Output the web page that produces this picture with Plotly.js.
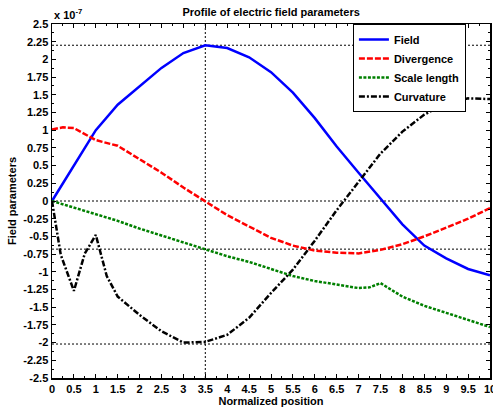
<!DOCTYPE html>
<html>
<head>
<meta charset="utf-8">
<script src="https://cdn.plot.ly/plotly-3.0.1.min.js"></script>
<style>html,body{margin:0;padding:0;background:#fff;}#chart{width:493px;height:408px;}</style>
</head>
<body>
<div id="chart"></div>
<script>
// values in units of 1e-7
const fieldX = [0,0.5,1,1.5,2,2.5,3,3.5,4,4.5,5,5.5,6,6.5,7,7.5,8,8.5,9,9.5,10];
const fieldY = [0,0.51,1.0,1.36,1.62,1.88,2.09,2.2,2.16,2.03,1.82,1.53,1.17,0.77,0.40,0.04,-0.33,-0.63,-0.81,-0.96,-1.05];

const divX = [0,0.25,0.5,1,1.5,2,2.5,3,3.5,4,4.5,5,5.5,6,6.5,7,7.5,8,8.5,9,9.5,10];
const divY = [1.01,1.04,1.03,0.86,0.78,0.59,0.40,0.19,0.0,-0.2,-0.36,-0.52,-0.63,-0.70,-0.73,-0.74,-0.69,-0.61,-0.50,-0.38,-0.25,-0.10];

const scaleX = [0,0.5,1,1.5,2,2.5,3,3.5,4,4.5,5,5.5,6,6.5,7,7.25,7.5,8,8.5,9,9.5,10];
const scaleY = [0,-0.09,-0.18,-0.28,-0.39,-0.49,-0.59,-0.68,-0.78,-0.86,-0.96,-1.06,-1.13,-1.18,-1.23,-1.22,-1.16,-1.35,-1.48,-1.58,-1.68,-1.78];

const curvX = [0,0.2,0.5,0.75,1,1.25,1.5,2,2.5,3,3.5,4,4.5,5,5.5,6,6.5,7,7.5,8,8.5,9,9.5,10];
const curvY = [0,-0.76,-1.27,-0.74,-0.48,-1.06,-1.35,-1.61,-1.84,-2.0,-1.99,-1.89,-1.65,-1.30,-0.97,-0.56,-0.13,0.27,0.67,0.98,1.22,1.38,1.45,1.44];

const refY = [2.2, 0, -0.68, -2.02];
const refX = [3.5];

const xTickVals = [0,0.5,1,1.5,2,2.5,3,3.5,4,4.5,5,5.5,6,6.5,7,7.5,8,8.5,9,9.5,10];
const xTickText = ["0","0.5","1","1.5","2","2.5","3","3.5","4","4.5","5","5.5","6","6.5","7","7.5","8","8.5","9","9.5","10"];
const yTickVals = [2.5,2.25,2,1.75,1.5,1.25,1,0.75,0.5,0.25,0,-0.25,-0.5,-0.75,-1,-1.25,-1.5,-1.75,-2,-2.25,-2.5];
const yTickText = ["2.5","2.25","2","1.75","1.5","1.25","1","0.75","0.5","0.25","0","-0.25","-0.5","-0.75","-1","-1.25","-1.5","-1.75","-2","-2.25","-2.5"];

const FONT = "Liberation Sans, Arial, sans-serif";
const F = (s) => ({family: FONT, size: s, weight: "bold", color: "#000"});

const traces = [
  {x: fieldX, y: fieldY, name: "Field", mode: "lines", line: {color: "#0000ff", width: 2.5}},
  {x: divX, y: divY, name: "Divergence", mode: "lines", line: {color: "#ff0000", width: 2.5, dash: "6px,2px"}},
  {x: scaleX, y: scaleY, name: "Scale length", mode: "lines", line: {color: "#008000", width: 2.5, dash: "3px,1.5px"}},
  {x: curvX, y: curvY, name: "Curvature", mode: "lines", line: {color: "#000000", width: 2.5, dash: "6px,2px,2px,2px"}}
];

const shapes = [];
refY.forEach(v => shapes.push({type: "line", xref: "paper", x0: 0, x1: 1, yref: "y", y0: v, y1: v, line: {color: "#000", width: 1, dash: "2px,2px"}, layer: "below"}));
refX.forEach(v => shapes.push({type: "line", yref: "paper", y0: 0, y1: 1, xref: "x", x0: v, x1: v, line: {color: "#000", width: 1, dash: "2px,2px"}, layer: "below"}));

const layout = {
  width: 493, height: 408,
  margin: {l: 52, r: 3, t: 24, b: 30, pad: 0},
  paper_bgcolor: "#fff", plot_bgcolor: "#fff",
  font: F(11),
  title: {text: "Profile of electric field parameters", font: F(11), x: 0.55, xanchor: "center", y: 0.97, yanchor: "middle"},
  showlegend: true,
  legend: {x: 0.687, y: 1, xanchor: "left", yanchor: "top", bgcolor: "#fff", bordercolor: "#000", borderwidth: 1, font: F(11), tracegroupgap: 0},
  xaxis: {
    range: [0, 10], tickmode: "array", tickvals: xTickVals, ticktext: xTickText,
    ticks: "inside", ticklen: 4, tickwidth: 1, tickcolor: "#000",
    minor: {dtick: 0.25, ticks: "inside", ticklen: 2, tickcolor: "#000", showgrid: false},
    showline: true, linecolor: "#000", linewidth: 1.5, mirror: "ticks",
    showgrid: false, zeroline: false, ticklabeloverflow: "allow",
    tickfont: F(11),
    title: {text: "Normalized position", font: F(11), standoff: 2}
  },
  yaxis: {
    range: [-2.5, 2.5], tickmode: "array", tickvals: yTickVals, ticktext: yTickText,
    ticks: "inside", ticklen: 4, tickwidth: 1, tickcolor: "#000",
    minor: {dtick: 0.125, ticks: "inside", ticklen: 2, tickcolor: "#000", showgrid: false},
    showline: true, linecolor: "#000", linewidth: 1.5, mirror: "ticks",
    showgrid: false, zeroline: false, ticklabeloverflow: "allow",
    tickfont: F(11),
    title: {text: "Field parameters", font: F(11), standoff: 4}
  },
  shapes: shapes,
  annotations: [
    {xref: "paper", yref: "paper", x: 0, y: 1, xanchor: "left", yanchor: "bottom", yshift: 1, showarrow: false,
     text: "x 10<sup>-7</sup>", font: F(11)}
  ]
};

Plotly.newPlot("chart", traces, layout, {displayModeBar: false, staticPlot: true});
</script>
</body>
</html>
